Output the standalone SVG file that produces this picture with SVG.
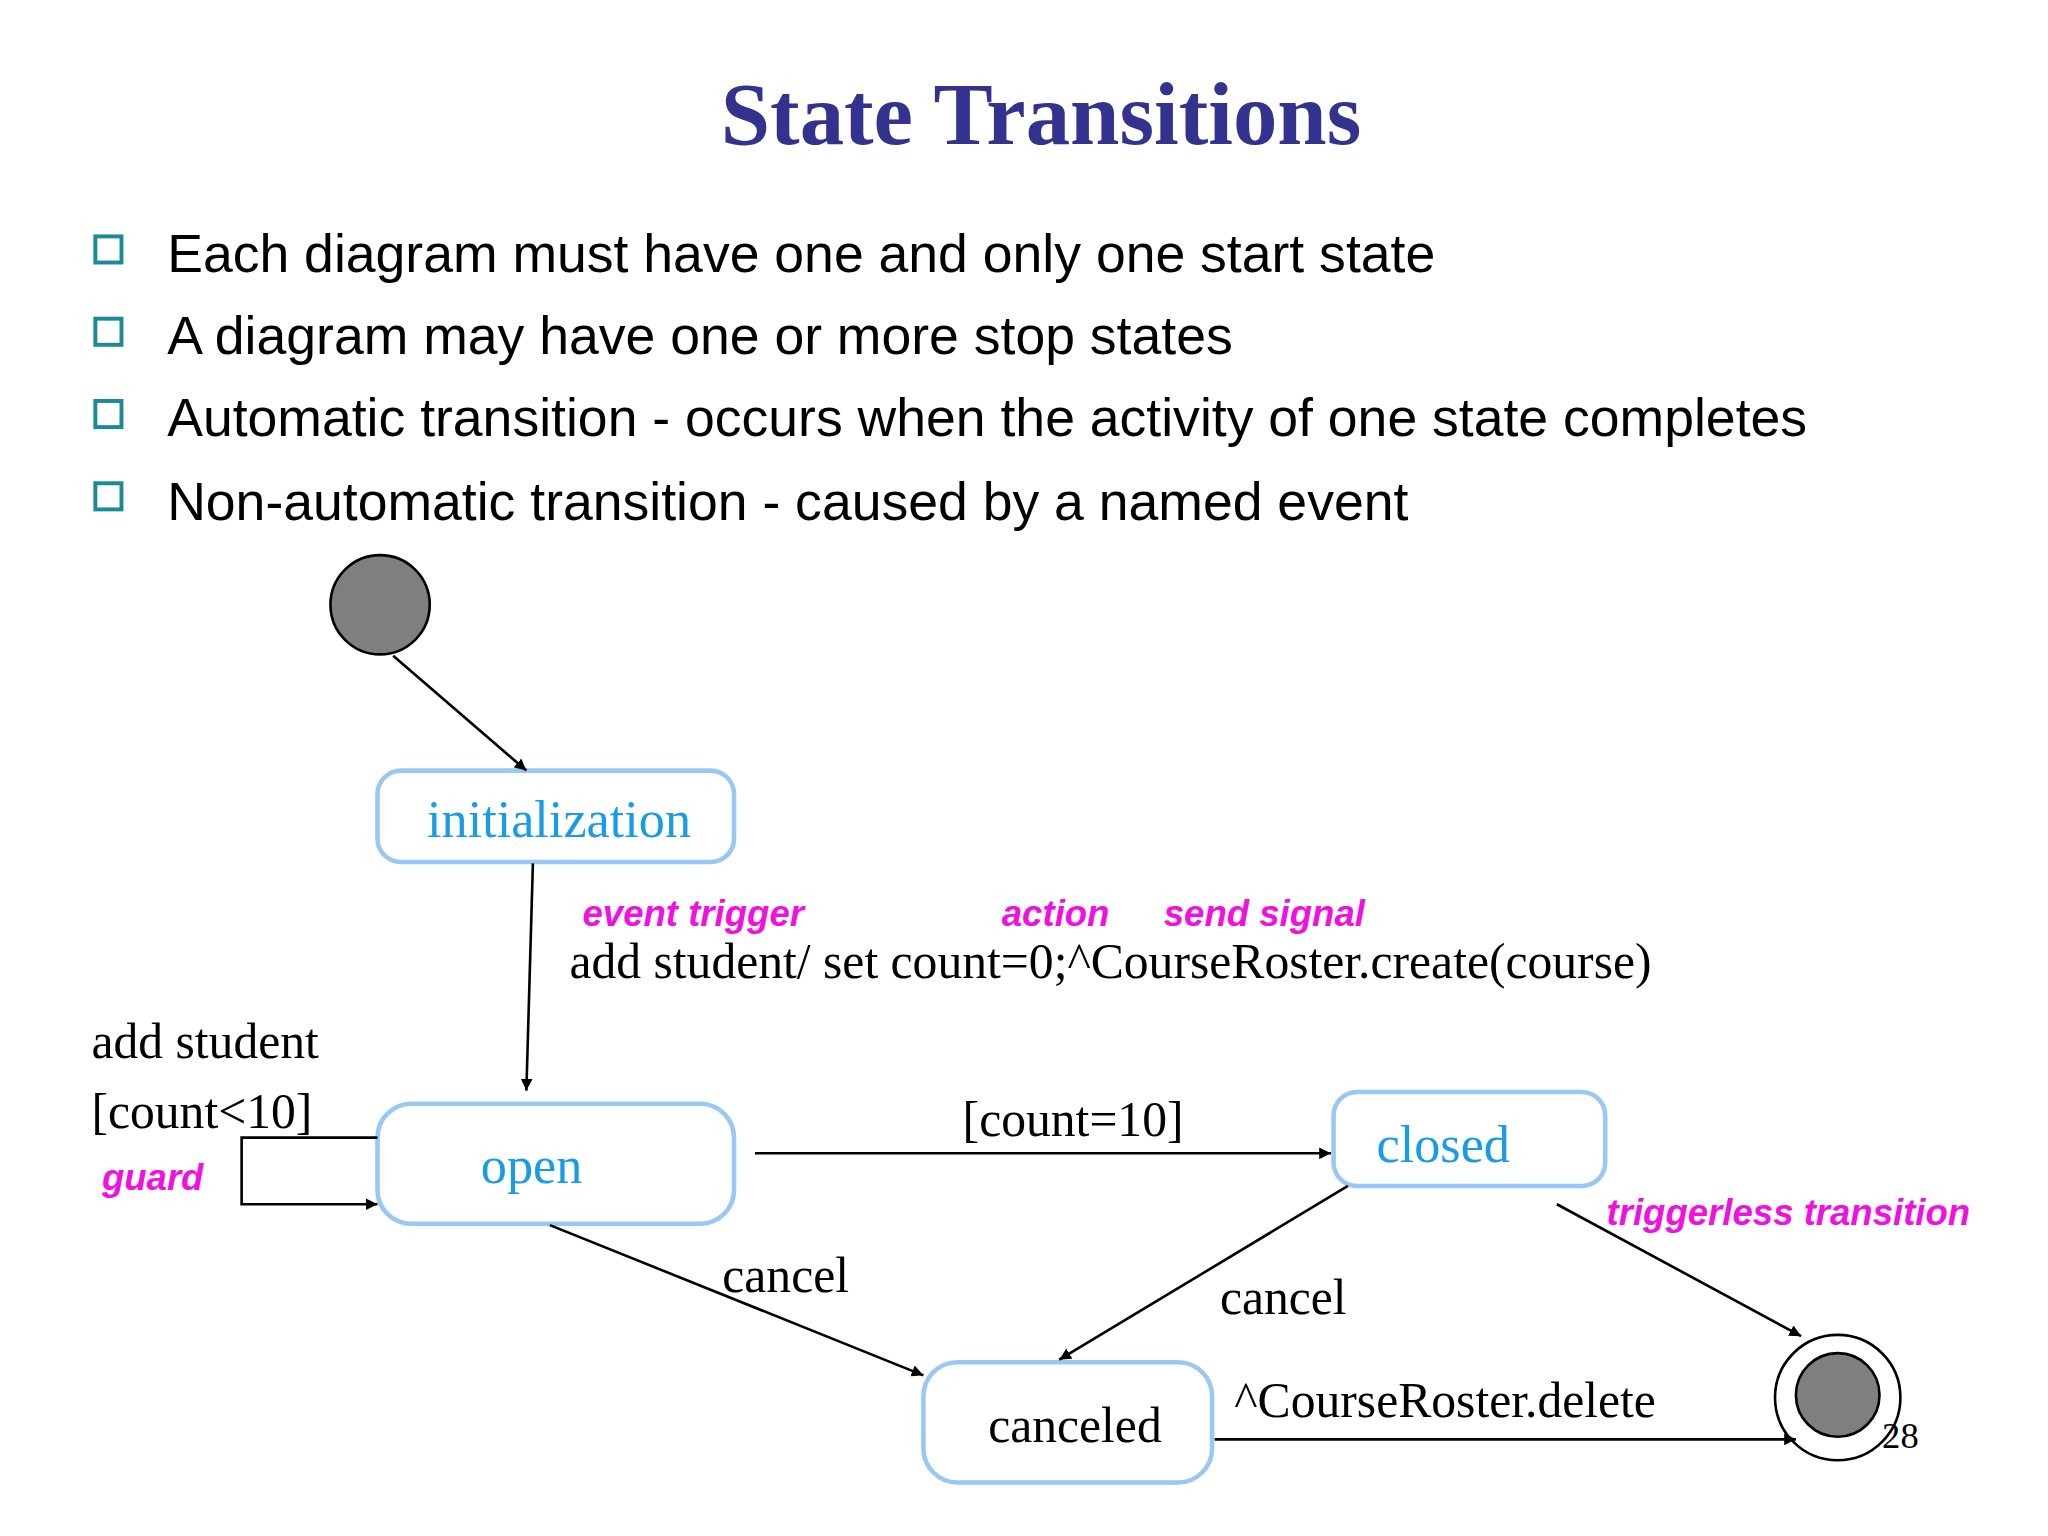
<svg xmlns="http://www.w3.org/2000/svg" width="2048" height="1536" viewBox="0 0 2048 1536">
<defs>
<marker id="ah" viewBox="0 0 10 10" refX="10" refY="5" markerWidth="9" markerHeight="9" markerUnits="userSpaceOnUse" orient="auto"><path d="M0,0 L10,5 L0,10 z" fill="#000"/></marker>
<style>
.st{fill:#fff;stroke:#99c8f5;stroke-width:3.5}
.sn{font-family:"Liberation Serif",serif;font-size:40px;fill:#1a9be8}
.tx{font-family:"Liberation Serif",serif;font-size:38px;fill:#000}
.mg{font-family:"Liberation Sans",sans-serif;font-size:28px;font-weight:bold;font-style:italic;fill:#f010e0}
.bl{font-family:"Liberation Sans",sans-serif;font-size:41px;fill:#000}
.bx{fill:#fff;stroke:#1a8a94;stroke-width:3}
.ln{stroke:#000;stroke-width:2;fill:none;marker-end:url(#ah)}
</style>
</defs>
<rect width="2048" height="1536" fill="#fff"/>
<g transform="scale(1.30612)">
<text x="797" y="110" text-anchor="middle" font-family="Liberation Serif,serif" font-size="68" font-weight="bold" fill="#33338f">State Transitions</text>
<g>
<rect class="bx" x="73" y="181" width="20" height="20"/><text class="bl" x="128" y="208">Each diagram must have one and only one start state</text>
<rect class="bx" x="73" y="244" width="20" height="20"/><text class="bl" x="128" y="271">A diagram may have one or more stop states</text>
<rect class="bx" x="73" y="307" width="20" height="20"/><text class="bl" x="128" y="334">Automatic transition - occurs when the activity of one state completes</text>
<rect class="bx" x="73" y="370" width="20" height="20"/><text class="bl" x="128" y="398">Non-automatic transition - caused by a named event</text>
</g>
<g id="start"><circle cx="291" cy="463" r="38" fill="#7f7e80" stroke="#000" stroke-width="2"/></g>
<g id="initialization"><rect class="st" x="289" y="590" width="273" height="70" rx="18"/><text class="sn" x="428" y="641" text-anchor="middle">initialization</text></g>
<g id="open"><rect class="st" x="289" y="845" width="273" height="92" rx="26"/><text class="sn" x="407" y="906" text-anchor="middle">open</text></g>
<g id="closed"><rect class="st" x="1021" y="836" width="208" height="72" rx="18"/><text class="sn" x="1105" y="890" text-anchor="middle">closed</text></g>
<g id="canceled"><rect class="st" x="707" y="1043" width="221" height="92" rx="26"/><text class="tx" x="823" y="1104" text-anchor="middle">canceled</text></g>
<g id="stop"><circle cx="1407" cy="1070" r="48" fill="#fff" stroke="#000" stroke-width="2"/><circle cx="1407" cy="1068" r="32" fill="#7f7e80" stroke="#000" stroke-width="2"/></g>
<g id="connectors">
<line class="ln" x1="301" y1="502" x2="403" y2="590"/>
<line class="ln" x1="408" y1="661" x2="403" y2="835"/>
<polyline class="ln" points="289,871 185,871 185,922 289,922"/>
<line class="ln" x1="578" y1="883" x2="1019" y2="883"/>
<line class="ln" x1="421" y1="938" x2="707" y2="1053"/>
<line class="ln" x1="1032" y1="908" x2="811" y2="1041"/>
<line class="ln" x1="1192" y1="922" x2="1379" y2="1023"/>
<line class="ln" x1="930" y1="1102" x2="1375" y2="1102"/>
</g>
<g>
<text class="mg" x="446" y="709">event trigger</text>
<text class="mg" x="767" y="709">action</text>
<text class="mg" x="891" y="709">send signal</text>
<text class="tx" x="436" y="749">add student/ set count=0;^CourseRoster.create(course)</text>
<text class="tx" x="70" y="810">add student</text>
<text class="tx" x="70" y="864">[count&lt;10]</text>
<text class="mg" x="78" y="911">guard</text>
<text class="tx" x="737" y="870">[count=10]</text>
<text class="mg" x="1230" y="938">triggerless transition</text>
<text class="tx" x="553" y="989">cancel</text>
<text class="tx" x="934" y="1006">cancel</text>
<text class="tx" x="945" y="1085">^CourseRoster.delete</text>
<text x="1441" y="1109" font-family="Liberation Serif,serif" font-size="28">28</text>
</g>
</g>
</svg>
